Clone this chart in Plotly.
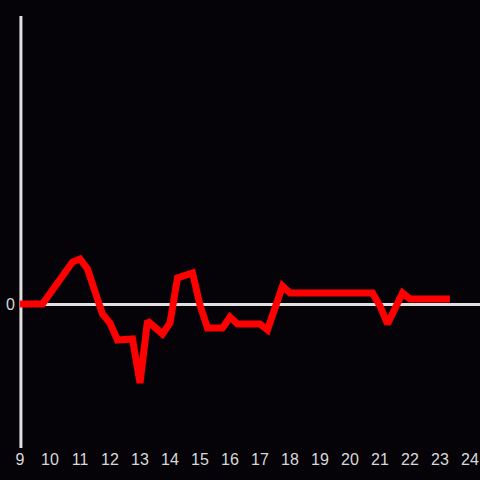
import plotly.graph_objects as go

hours = [9.0, 9.75, 10.75, 11.0, 11.25, 11.75, 12.0, 12.25, 12.75, 13.0, 13.25, 13.75,
         14.0, 14.25, 14.75, 15.0, 15.25, 15.75, 16.0, 16.25, 17.0, 17.25, 17.75, 18.0,
         20.75, 21.0, 21.25, 21.75, 22.0, 23.33]
values = [0, 0, 42, 45, 35, -10, -19, -36, -35, -79, -17, -30,
          -19, 26, 31, -1, -24, -24, -13, -20, -20, -26, 18, 11,
          11, -2, -20, 11, 5, 5]
xticks = list(range(9, 25))

fig = go.Figure()
fig.add_trace(go.Scatter(x=hours, y=values, mode="lines",
                         line=dict(color="#ff0000", width=7), hoverinfo="skip"))

# left axis line at the plot's left edge
fig.add_shape(type="line", xref="paper", yref="paper", x0=0.002, x1=0.002, y0=0, y1=1,
              line=dict(color="#e0e0e0", width=3), layer="below")

fig.update_layout(
    width=480, height=480,
    margin=dict(l=20, r=0, t=16, b=32),
    paper_bgcolor="#050308", plot_bgcolor="#050308",
    showlegend=False,
    font=dict(family="Liberation Sans, Arial, sans-serif", size=16, color="#d8d8d8"),
    xaxis=dict(range=[9, 24.333], tickvals=xticks, ticktext=[str(t) for t in xticks],
               tickfont=dict(size=16, color="#d8d8d8"),
               showgrid=False, zeroline=False, showline=False, ticks="", fixedrange=True),
    yaxis=dict(range=[-144, 288], tickvals=[0], ticktext=["0"], showgrid=False,
               tickfont=dict(size=16, color="#d8d8d8"), ticklabelstandoff=4,
               zeroline=True, zerolinecolor="#e0e0e0", zerolinewidth=3,
               showline=False, ticks="", fixedrange=True),
)

fig.write_html("out.html", config={"displayModeBar": False})
with open("out.html", encoding="utf-8") as f:
    html = f.read()
html = html.replace("<body>", "<body style=\"margin:0;padding:0;background:#050308;overflow:hidden\">", 1)
with open("out.html", "w", encoding="utf-8") as f:
    f.write(html)
